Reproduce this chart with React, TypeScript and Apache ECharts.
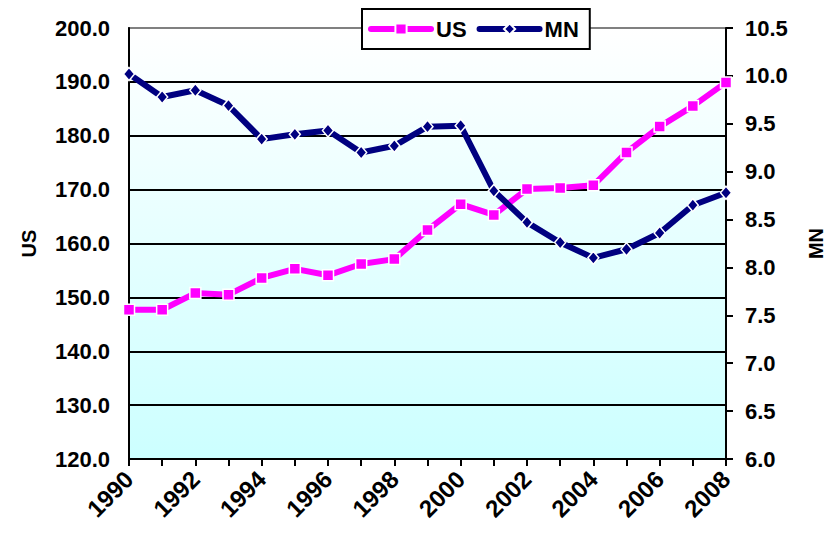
import React, { useEffect, useRef } from "react";
import * as echarts from "echarts";

const years = [
  "1990", "1991", "1992", "1993", "1994", "1995", "1996", "1997", "1998", "1999",
  "2000", "2001", "2002", "2003", "2004", "2005", "2006", "2007", "2008",
];
const usValues = [
  147.7, 147.7, 150.8, 150.5, 153.6, 155.3, 154.1, 156.2, 157.1, 162.5,
  167.3, 165.3, 170.1, 170.3, 170.8, 176.9, 181.7, 185.5, 189.9,
];
const mnValues = [
  10.02, 9.78, 9.85, 9.69, 9.34, 9.39, 9.43, 9.2, 9.27, 9.47,
  9.48, 8.8, 8.47, 8.26, 8.1, 8.19, 8.36, 8.65, 8.78,
];

const FONT = "'Liberation Sans', Arial, sans-serif";

export default function App() {
  const ref = useRef<HTMLDivElement>(null);
  useEffect(() => {
    document.body.style.margin = "0";
    const chart = echarts.init(ref.current!, undefined, { renderer: "svg" });
    const splitColors = ["#000", "#000", "#000", "#000", "#000", "#000", "#000", "#000", "#808080"];
    chart.setOption({
      animation: false,
      textStyle: { fontFamily: FONT },
      grid: {
        left: 129,
        right: 100,
        top: 28,
        bottom: 80,
        containLabel: false,
        outerBoundsMode: "none",
        show: true,
        backgroundColor: new echarts.graphic.LinearGradient(0, 0, 0, 1, [
          { offset: 0, color: "#ffffff" },
          { offset: 1, color: "#ccffff" },
        ]),
        borderColor: "#808080",
        borderWidth: 2,
      },
      legend: {
        left: 362,
        top: 9,
        itemWidth: 60,
        itemHeight: 14,
        itemGap: 10,
        padding: [9, 11, 9, 6],
        backgroundColor: "#ffffff",
        borderColor: "#000000",
        borderWidth: 2,
        borderRadius: 0,
        lineStyle: { width: 6, cap: "round" },
        textStyle: { fontFamily: FONT, fontWeight: "bold", fontSize: 22, color: "#000" },
        data: ["US", "MN"],
      },
      xAxis: {
        type: "category",
        data: years,
        boundaryGap: false,
        axisLine: { show: true, lineStyle: { color: "#000", width: 2 } },
        axisTick: { show: true, interval: 0, length: 7, lineStyle: { color: "#000", width: 2 } },
        axisLabel: {
          interval: 1,
          rotate: 45,
          margin: 16,
          fontFamily: FONT,
          fontWeight: "bold",
          fontSize: 24,
          color: "#000",
        },
        splitLine: { show: false },
      },
      yAxis: [
        {
          type: "value",
          min: 120,
          max: 200,
          interval: 10,
          position: "left",
          name: "US",
          nameLocation: "middle",
          nameRotate: 90,
          nameGap: 90,
          nameTextStyle: { fontFamily: FONT, fontWeight: "bold", fontSize: 20, color: "#000" },
          axisLine: { show: true, lineStyle: { color: "#000", width: 2 } },
          axisTick: { show: false },
          axisLabel: {
            margin: 19,
            formatter: (v: number) => v.toFixed(1),
            fontFamily: FONT,
            fontWeight: "bold",
            fontSize: 22,
            color: "#000",
          },
          splitLine: { show: true, lineStyle: { color: splitColors, width: 2 } },
        },
        {
          type: "value",
          min: 6,
          max: 10.5,
          interval: 0.5,
          position: "right",
          name: "MN",
          nameLocation: "middle",
          nameRotate: 90,
          nameGap: 80,
          nameTextStyle: { fontFamily: FONT, fontWeight: "bold", fontSize: 20, color: "#000" },
          axisLine: { show: true, lineStyle: { color: "#000", width: 2 } },
          axisTick: { show: true, length: 7, lineStyle: { color: "#000", width: 2 } },
          axisLabel: {
            margin: 19,
            formatter: (v: number) => v.toFixed(1),
            fontFamily: FONT,
            fontWeight: "bold",
            fontSize: 22,
            color: "#000",
          },
          splitLine: { show: false },
        },
      ],
      series: [
        {
          name: "US",
          type: "line",
          yAxisIndex: 0,
          data: usValues,
          color: "#ff00ff",
          symbol: "rect",
          symbolSize: 11,
          showAllSymbol: true,
          lineStyle: { color: "#ff00ff", width: 6 },
          itemStyle: { color: "#ff00ff", borderColor: "#ffffff", borderWidth: 1.5 },
        },
        {
          name: "MN",
          type: "line",
          yAxisIndex: 1,
          data: mnValues,
          color: "#000080",
          symbol: "diamond",
          symbolSize: [11, 13],
          showAllSymbol: true,
          lineStyle: { color: "#000080", width: 6 },
          itemStyle: { color: "#000080", borderColor: "#ffffff", borderWidth: 1.5 },
        },
      ],
    });
    return () => chart.dispose();
  }, []);
  return <div ref={ref} style={{ width: 826, height: 539 }} />;
}
